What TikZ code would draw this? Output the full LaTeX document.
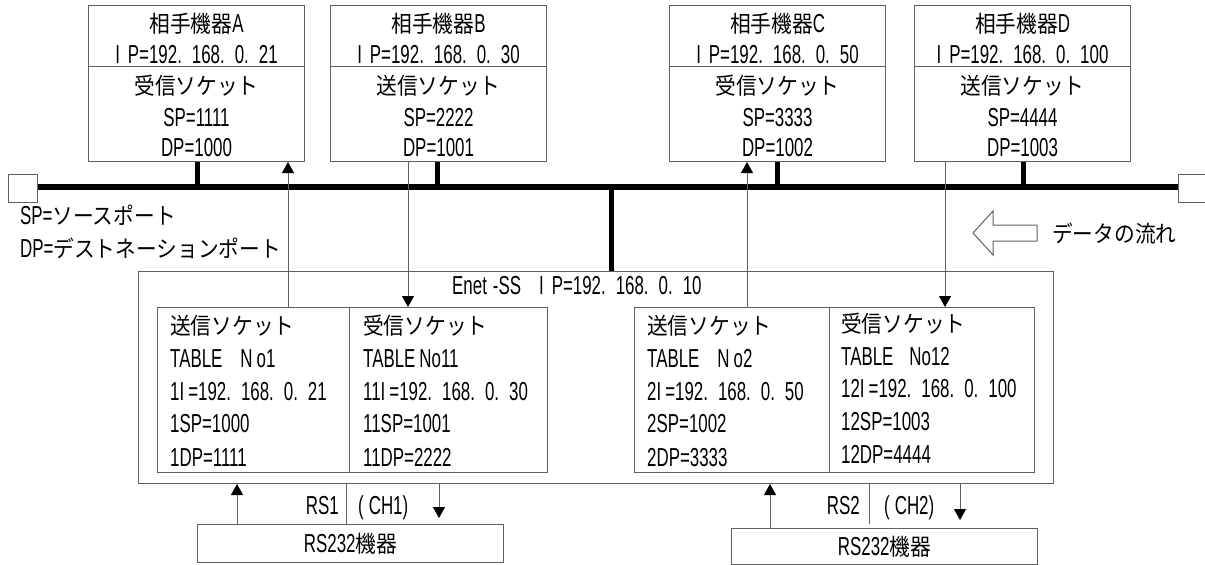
\documentclass[tikz,border=0pt]{standalone}
\usepackage{fontspec}
\setmainfont{Liberation Sans}[FakeStretch=0.65, Scale=1.13]
\newfontfamily\jp{Noto Sans CJK JP}[FakeStretch=0.9]
\usetikzlibrary{arrows.meta}
\colorlet{lc}{black!62}
\newcommand\gp[1][10pt]{\hspace*{#1}}
\newcommand\devbox[9]{%
  \node[box, anchor=north west, minimum width=216pt, minimum height=156pt] (#1) at (#2,5) {};
  \draw[line] (#1.west |- 0,66) -- (#1.east |- 0,66);
  \node[txt] (#1t) at ([yshift=-18pt]#1.north) {#3};
  \node[txt] (#1ip) at ([yshift=-49pt]#1.north) {#4};
  \node[txt] (#1so) at ([yshift=-80pt]#1.north) {#5};
  \node[txt] (#1sp) at ([yshift=-112pt]#1.north) {#6};
  \node[txt] (#1dp) at ([yshift=-142pt]#1.north) {#7};
  \coordinate (#1bus) at (#8,187);
  \draw[stub] (#1.south -| #1bus) -- (#1bus);
}
\begin{document}
\begin{tikzpicture}[x=1pt,y=-1pt,
  line/.style={draw=lc, line width=1pt},
  box/.style={draw=lc, line width=1pt, inner sep=0pt},
  txt/.style={inner sep=0pt, text height=18pt, text depth=0pt, font=\fontsize{23}{27}\selectfont},
  ltxt/.style={txt, anchor=west},
  arr/.style={draw=lc, line width=1pt, -{Triangle[length=11pt,width=12pt,color=black]}},
  stub/.style={draw=black, line width=5pt},
  bus/.style={draw=black, line width=6pt}]
\useasboundingbox (0,0) rectangle (1205,565);
% bus
\node[box, anchor=north west, minimum width=29pt, minimum height=28pt] (lsq) at (8,174) {};
\node[box, anchor=north west, minimum width=29pt, minimum height=28pt] (rsq) at (1178,174) {};
\draw[bus] (lsq.east |- 0,187) -- (rsq.west |- 0,187);
% devices
\devbox{A}{88}{{\jp 相手機器}A}{I\gp[8pt]P=192.\gp168.\gp0.\gp21}{{\jp 受信ソケット}}{SP=1111}{DP=1000}{197}{}
\devbox{B}{330}{{\jp 相手機器}B}{I\gp[8pt]P=192.\gp168.\gp0.\gp30}{{\jp 送信ソケット}}{SP=2222}{DP=1001}{437}{}
\devbox{C}{669}{{\jp 相手機器}C}{I\gp[8pt]P=192.\gp168.\gp0.\gp50}{{\jp 受信ソケット}}{SP=3333}{DP=1002}{777}{}
\devbox{D}{914}{{\jp 相手機器}D}{I\gp[8pt]P=192.\gp168.\gp0.\gp100}{{\jp 送信ソケット}}{SP=4444}{DP=1003}{1023}{}
% legend
\node[ltxt] (lsp) at (20,215) {SP={\jp ソースポート}};
\node[ltxt] (ldp) at (20,248) {DP={\jp デストネーションポート}};
\draw[line, fill=white] (1037,225) -- (993,225) -- (993,211) -- (973,233) -- (993,255) -- (993,241) -- (1037,241) -- cycle;
\node[ltxt] (flow) at (1052,233) {\jp データの流れ};
% Enet-SS
\node[box, anchor=north west, minimum width=915pt, minimum height=212pt] (enet) at (138,271) {};
\coordinate (ebus) at (611,187);
\draw[stub] (ebus) -- (enet.north -| ebus);
\node[ltxt] (elab) at (452,285) {Enet\gp[6pt]-SS\gp[18pt]I\gp[8pt]P=192.\gp168.\gp0.\gp10};
\node[box, anchor=north west, minimum width=192pt, minimum height=165pt] (s1) at (157,307) {};
\node[box, anchor=north west, minimum width=198pt, minimum height=165pt] (r1) at (349,307) {};
\node[box, anchor=north west, minimum width=195pt, minimum height=165pt] (s2) at (634,307) {};
\node[box, anchor=north west, minimum width=205pt, minimum height=165pt] (r2) at (829,307) {};
% table 1
\node[ltxt] (s1a) at (170,325) {\jp 送信ソケット};
\node[ltxt] (s1b) at (170,358) {TABLE\gp[18pt]N\gp[4pt]o1};
\node[ltxt] (s1c) at (170,391) {1I\gp[4pt]=192.\gp168.\gp0.\gp21};
\node[ltxt] (s1d) at (170,423) {1SP=1000};
\node[ltxt] (s1e) at (170,457) {1DP=1111};
\node[ltxt] (r1a) at (363,325) {\jp 受信ソケット};
\node[ltxt] (r1b) at (363,358) {TABLE\gp[4pt]No11};
\node[ltxt] (r1c) at (363,391) {11I\gp[4pt]=192.\gp168.\gp0.\gp30};
\node[ltxt] (r1d) at (363,423) {11SP=1001};
\node[ltxt] (r1e) at (363,457) {11DP=2222};
% table 2
\node[ltxt] (s2a) at (647,325) {\jp 送信ソケット};
\node[ltxt] (s2b) at (647,358) {TABLE\gp[18pt]N\gp[4pt]o2};
\node[ltxt] (s2c) at (647,391) {2I\gp[4pt]=192.\gp168.\gp0.\gp50};
\node[ltxt] (s2d) at (647,423) {2SP=1002};
\node[ltxt] (s2e) at (647,457) {2DP=3333};
\node[ltxt] (r2a) at (841,323) {\jp 受信ソケット};
\node[ltxt] (r2b) at (841,356) {TABLE\gp[16pt]No12};
\node[ltxt] (r2c) at (841,388) {12I\gp[4pt]=192.\gp168.\gp0.\gp100};
\node[ltxt] (r2d) at (841,421) {12SP=1003};
\node[ltxt] (r2e) at (841,454) {12DP=4444};
% socket arrows
\draw[arr] (s1.north -| 288,0) -- (A.south -| 288,0);
\draw[arr] (B.south -| 408,0) -- (r1.north -| 408,0);
\draw[arr] (s2.north -| 747,0) -- (C.south -| 747,0);
\draw[arr] (D.south -| 945,0) -- (r2.north -| 945,0);
% RS232
\node[box, anchor=north west, minimum width=306pt, minimum height=38pt] (rs1) at (197,524) {};
\node[txt] (rs1t) at (rs1.center) {RS232{\jp 機器}};
\node[box, anchor=north west, minimum width=306pt, minimum height=36pt] (rs2) at (731,528) {};
\node[txt] (rs2t) at (rs2.center) {RS232{\jp 機器}};
\draw[arr] (rs1.north -| 237,0) -- (enet.south -| 237,0);
\draw[line] (enet.south -| 346,0) -- (rs1.north -| 346,0);
\coordinate (d1) at (439,518);
\draw[arr] (enet.south -| d1) -- (d1);
\node[txt, anchor=east] (ch1a) at (339,505) {RS1};
\node[txt, anchor=west] (ch1b) at (358,505) {(\gp[5pt]CH1)};
\draw[arr] (rs2.north -| 770,0) -- (enet.south -| 770,0);
\draw[line] (enet.south -| 869,0) -- (869,524);
\coordinate (d2) at (960,520);
\draw[arr] (enet.south -| d2) -- (d2);
\node[txt, anchor=east] (ch2a) at (860,505) {RS2};
\node[txt, anchor=west] (ch2b) at (884,505) {(\gp[5pt]CH2)};
\end{tikzpicture}
\end{document}
